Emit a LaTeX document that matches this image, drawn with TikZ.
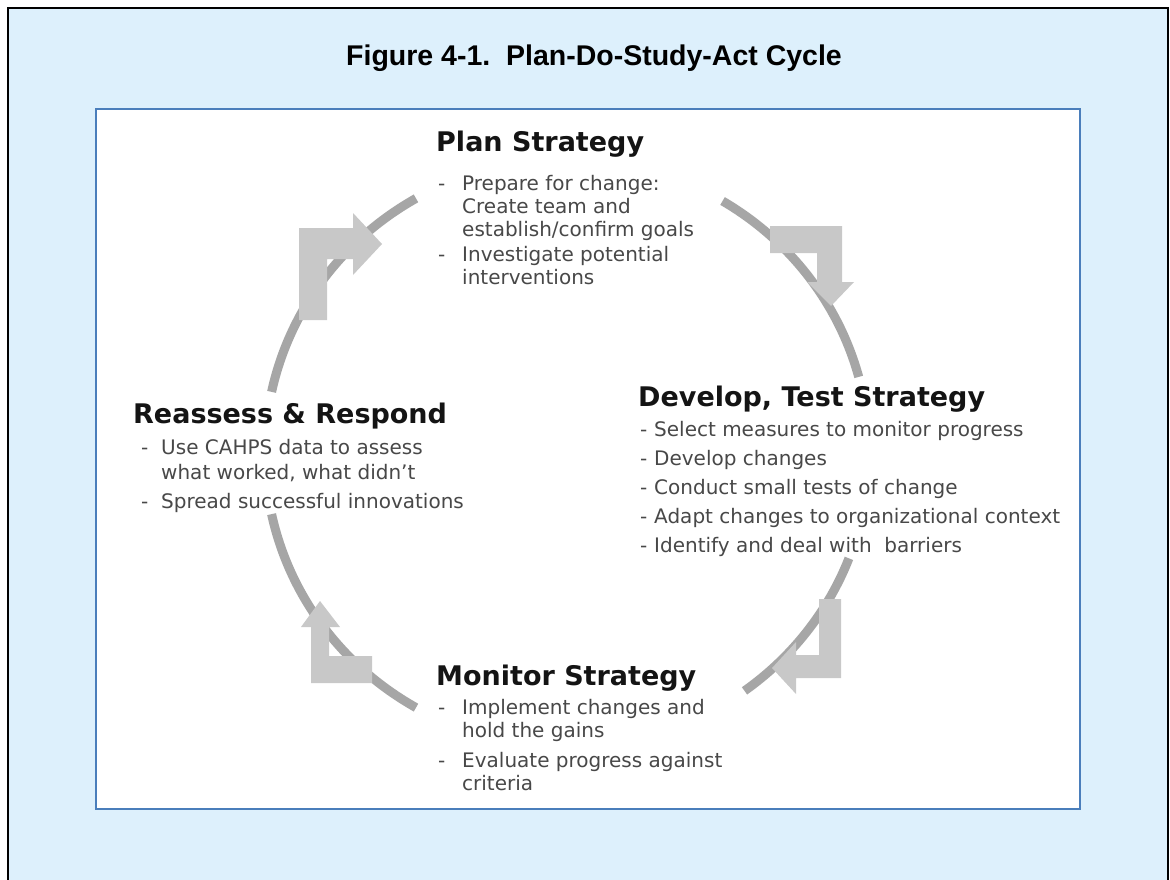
\documentclass[tikz,border=0pt]{standalone}
\usepackage{fontspec}
\setmainfont{DejaVu Sans}
\newfontfamily\titlefont{Liberation Sans}
\usetikzlibrary{calc}

\definecolor{paneblue}{RGB}{221,240,252}
\definecolor{frameblue}{RGB}{74,126,187}
\definecolor{ringgray}{RGB}{166,166,166}
\definecolor{arrowgray}{RGB}{200,200,200}
\definecolor{headink}{RGB}{20,20,20}
\definecolor{bodyink}{RGB}{72,72,72}

\begin{document}
\begin{tikzpicture}[x=1pt,y=-1pt]
\tikzset{heading/.style = {anchor=base west, inner sep=0pt, text=headink, font=\fontsize{27}{32}\selectfont\bfseries}}
\tikzset{itemlist/.style = {anchor=base west, inner sep=0pt, text=bodyink, font=\fontsize{20}{23}\selectfont}}
\tikzset{ring/.style = {draw=ringgray, line width=9pt}}
\tikzset{bentarrow/.style = {fill=arrowgray, draw=none}}
\useasboundingbox (0,0) rectangle (1170,880);
\clip (0,0) rectangle (1170,880);

% ----- frame
\draw[fill=paneblue, line width=2.5pt] (8,8) rectangle (1168,900);
\node[anchor=base, inner sep=0pt, font=\titlefont\bfseries\fontsize{28.5}{34}\selectfont] (title) at (594,66) {Figure 4-1.\ \ Plan-Do-Study-Act Cycle};
\node[draw=frameblue, fill=white, line width=2pt, minimum width=984pt, minimum height=700pt, inner sep=0pt] (panel) at (588,459) {};

% ----- ring
\coordinate (ctr) at (567,453);
\draw[ring] ($(ctr)+(-168:302 and 294)$) arc[start angle=-168, end angle=-120, x radius=302, y radius=294];
\draw[ring] ($(ctr)+(-59:302 and 294)$) arc[start angle=-59, end angle=-15, x radius=302, y radius=294];
\draw[ring] ($(ctr)+(21:302 and 294)$) arc[start angle=21, end angle=54, x radius=302, y radius=294];
\draw[ring] ($(ctr)+(-192:302 and 294)$) arc[start angle=-192, end angle=-240, x radius=302, y radius=294];

% ----- bent arrows
\fill[bentarrow] (299,320) -- (299,228) -- (353,228) -- (353,213) -- (382,244) -- (353,275) -- (353,259) -- (327,259) -- (327,320) -- cycle;
\fill[bentarrow] (770,226) -- (842,226) -- (842,282) -- (854,282) -- (831,306) -- (807,282) -- (817,282) -- (817,253) -- (770,253) -- cycle;
\fill[bentarrow] (841,599) -- (841,678) -- (796,678) -- (796,694) -- (772,668) -- (796,642) -- (796,655) -- (819,655) -- (819,599) -- cycle;
\fill[bentarrow] (372,683) -- (311,683) -- (311,627) -- (301,627) -- (320,601) -- (340,627) -- (329,627) -- (329,656) -- (372,656) -- cycle;

% ----- plan
\node[heading] (plan) at (436,152) {Plan Strategy};
\node[itemlist] (planlist) at (438,190) {\begin{tabular}[t]{@{}p{24pt}@{}l@{}}
- & Prepare for change:\\
  & Create team and\\
  & establish/confirm goals\\[2pt]
- & Investigate potential\\
  & interventions
\end{tabular}};

% ----- develop
\node[heading] (develop) at (638,406) {Develop, Test Strategy};
\node[itemlist] (developlist) at (640,436) {\begin{tabular}[t]{@{}p{14pt}@{}l@{}}
- & Select measures to monitor progress\\[6pt]
- & Develop changes\\[6pt]
- & Conduct small tests of change\\[6pt]
- & Adapt changes to organizational context\\[6pt]
- & Identify and deal with\ \ barriers
\end{tabular}};

% ----- monitor
\node[heading] (monitor) at (436,685) {Monitor Strategy};
\node[itemlist] (monitorlist) at (438,714) {\begin{tabular}[t]{@{}p{24pt}@{}l@{}}
- & Implement changes and\\
  & hold the gains\\[7pt]
- & Evaluate progress against\\
  & criteria
\end{tabular}};

% ----- reassess
\node[heading] (reassess) at (133,423) {Reassess \& Respond};
\node[itemlist] (reassesslist) at (141,454) {\begin{tabular}[t]{@{}p{20pt}@{}l@{}}
- & Use CAHPS data to assess\\[2pt]
  & what worked, what didn't\\[6pt]
- & Spread successful innovations
\end{tabular}};
\end{tikzpicture}
\end{document}
